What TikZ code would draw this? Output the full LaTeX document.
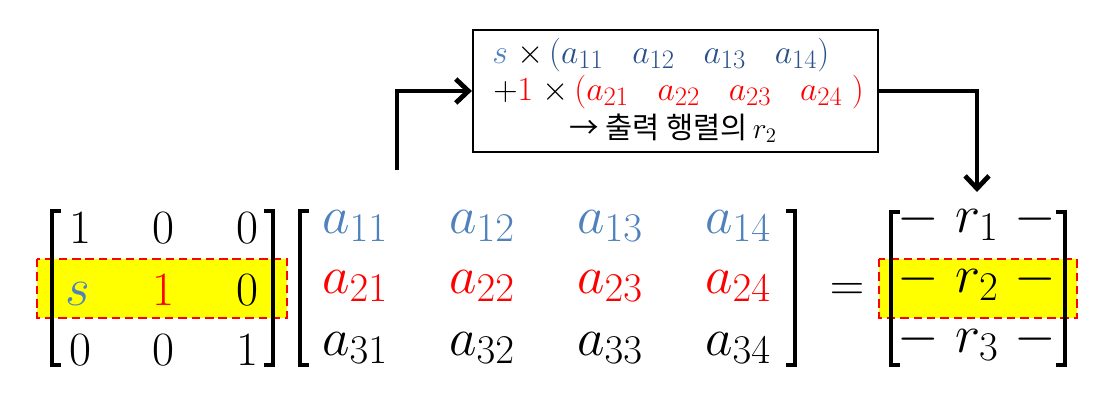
\RequirePackage{fix-cm}
\documentclass[tikz,border=0pt]{standalone}
\usepackage{fontspec}
\newfontfamily\krfont{Noto Sans CJK KR}
\usetikzlibrary{arrows.meta}
\DeclareMathSizes{24}{24}{19}{14}
\DeclareMathSizes{34}{34}{26}{20}
\DeclareMathSizes{38}{38}{29}{22}
\definecolor{rowblue}{RGB}{79,129,189}
\definecolor{boxblue}{RGB}{41,80,140}
\definecolor{rowred}{RGB}{255,0,0}
\definecolor{hiyellow}{RGB}{255,255,0}
\tikzset{
  entry/.style={anchor=base,inner sep=0pt,font=\fontsize{34}{40}\selectfont},
  bigentry/.style={entry,font=\fontsize{38}{44}\selectfont},
  brak/.style={line width=2.8pt},
  hilite/.style={fill=hiyellow,draw=rowred,line width=1.5pt,dash pattern=on 6pt off 3.5pt},
  flow/.style={line width=3.4pt,-{Straight Barb[length=9pt,width=17pt]}},
  boxline/.style={anchor=base west,inner sep=0pt,font=\fontsize{24}{28}\selectfont}
}
\begin{document}
\begin{tikzpicture}[x=0.025cm,y=-0.025cm]
\useasboundingbox (0,0) rectangle (1115,416);

\draw[hilite] (37,259) rectangle (287,318);
\draw[hilite] (879,259) rectangle (1077,318);

% left matrix
\draw[brak] (61,211) -- (52,211) -- (52,365) -- (61,365);
\draw[brak] (264,211) -- (273,211) -- (273,365) -- (264,365);
\node[entry] (e11) at (80,243) {$1$};
\node[entry] (e12) at (163,243) {$0$};
\node[entry] (e13) at (247,243) {$0$};
\node[bigentry,text=rowblue] (e21) at (78,305) {$s$};
\node[entry,text=rowred] (e22) at (163,305) {$1$};
\node[entry] (e23) at (247,305) {$0$};
\node[entry] (e31) at (80,365) {$0$};
\node[entry] (e32) at (163,365) {$0$};
\node[entry] (e33) at (247,365) {$1$};

% middle matrix
\draw[brak] (309,211) -- (300,211) -- (300,365) -- (309,365);
\draw[brak] (786,211) -- (795,211) -- (795,365) -- (786,365);
\foreach \c/\x in {1/355,2/482,3/610,4/738}{
  \node[bigentry,text=rowblue] (a1\c) at (\x,233) {$a_{1\c}$};
  \node[bigentry,text=rowred] (a2\c) at (\x,293) {$a_{2\c}$};
  \node[bigentry] (a3\c) at (\x,355) {$a_{3\c}$};
}

\node[entry] (eq) at (847,300) {$=$};

% result matrix
\draw[brak] (900,212) -- (891,212) -- (891,365) -- (900,365);
\draw[brak] (1056,212) -- (1065,212) -- (1065,365) -- (1056,365);
\node[bigentry] (r1) at (977,232) {${-}\hspace{0.3em}r_1\hspace{0.3em}{-}$};
\node[bigentry] (r2) at (977,292) {${-}\hspace{0.3em}r_2\hspace{0.3em}{-}$};
\node[bigentry] (r3) at (977,352) {${-}\hspace{0.3em}r_3\hspace{0.3em}{-}$};

% explanation box
\node[draw,line width=1.5pt,minimum width=10.125cm,minimum height=3.05cm] (box) at (675.5,91) {};
\node[boxline] (line1) at (492,63)
  {\textcolor{rowblue}{$s$}$\;\times\,$\textcolor{boxblue}{$(a_{11}\hspace{0.85em}a_{12}\hspace{0.85em}a_{13}\hspace{0.85em}a_{14})$}};
\node[boxline] (line2) at (493,100)
  {$+$\textcolor{rowred}{1}$\;\times\,$\textcolor{rowred}{$(a_{21}\hspace{0.85em}a_{22}\hspace{0.85em}a_{23}\hspace{0.85em}a_{24}\;)$}};
\node[boxline,anchor=base,font=\fontsize{21}{25}\selectfont] (line3) at (673,138) {{\krfont → 출력 행렬의}$\,r_2$};

\coordinate (src) at (397,170);
\coordinate (tgt) at (977,192);
\draw[flow] (src) |- (box.west);
\draw[flow] (box.east) -| (tgt);
\end{tikzpicture}
\end{document}
